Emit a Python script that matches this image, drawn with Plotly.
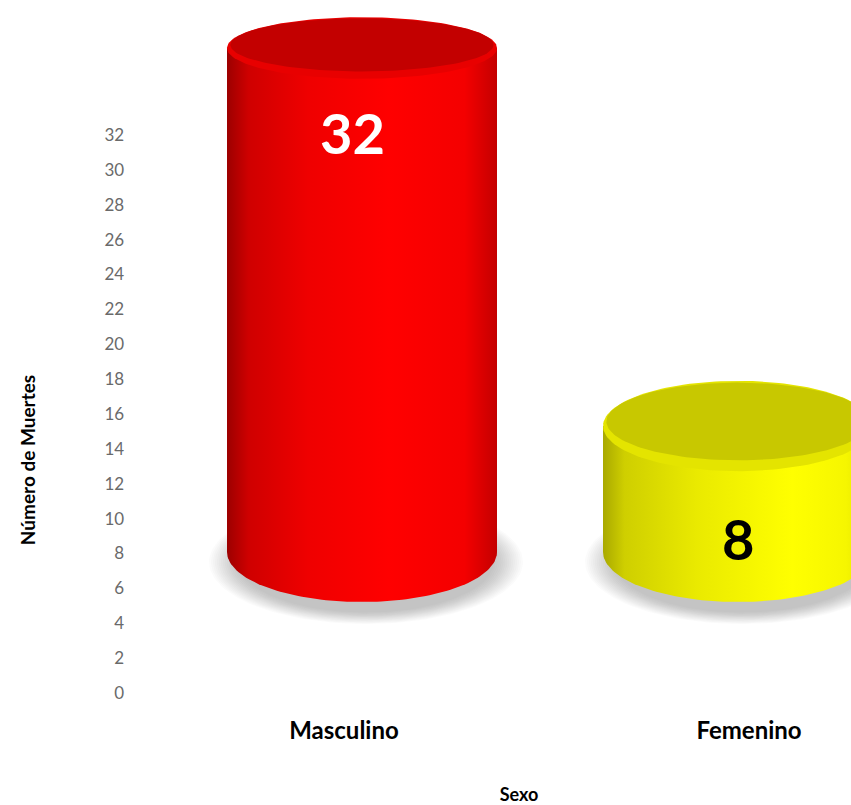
import numpy as np
import plotly.graph_objects as go

# ---------------- data ----------------
categories = ["Masculino", "Femenino"]
values = [32, 8]
y_ticks = list(range(0, 33, 2))
x_title = "Sexo"
y_title = "Número de Muertes"

# ---------------- styling ----------------
FONT = "Lato, Carlito, Calibri, sans-serif"
body_scales = [
    [[0, "#9c0000"], [0.08, "#cf0000"], [0.3, "#ef0000"], [0.6, "#ff0000"], [0.88, "#f40000"], [1, "#c40000"]],
    [[0, "#a9a900"], [0.08, "#cfcf00"], [0.35, "#eaea00"], [0.7, "#ffff00"], [0.9, "#f6f600"], [1, "#dede00"]],
]
flat_colors = ["#ff0000", "#f0f000"]
top_colors = ["#c30000", "#c8c800"]
rim_colors = ["#e80000", "#e4e400"]
label_colors = ["white", "black"]
label_drop_px = [84, 112]
label_xshift_px = [-10, 0]

W, H = 851, 805

# cylinder x axis (whole figure)
X_SCALE, X0_PX = 376.0, 362.0
x_range = [-X0_PX / X_SCALE, (W - X0_PX) / X_SCALE]
# cylinder value axis (whole figure)
Y_SCALE_C, BASE_PX = 15.75, 552.0
y_range_c = [-(H - BASE_PX) / Y_SCALE_C, BASE_PX / Y_SCALE_C]

# category label axis (its domain is centred where the axis title sits)
XL_SCALE, XL0_PX = 405.0, 344.0
XL_DOM_PX = [187.0, 851.0]
xl_domain = [XL_DOM_PX[0] / W, XL_DOM_PX[1] / W]
xl_range = [(XL_DOM_PX[0] - XL0_PX) / XL_SCALE, (XL_DOM_PX[1] - XL0_PX) / XL_SCALE]
XL_LINE_PX = 712.0

# tick value axis (domain centred where the axis title sits)
ZERO_PX, TOP_PX = 693.0, 135.0
Y_SCALE_T = (ZERO_PX - TOP_PX) / 32.0
YT_DOM_PX = [130.0, 790.0]
yt_domain = [1 - YT_DOM_PX[1] / H, 1 - YT_DOM_PX[0] / H]
yt_range = [-(YT_DOM_PX[1] - ZERO_PX) / Y_SCALE_T, (ZERO_PX - YT_DOM_PX[0]) / Y_SCALE_T]

BW = 270.0 / X_SCALE  # bar width in x units
RX = BW / 2


def ry_px(v):
    # perspective: lower faces look more tilted
    return 50.0 - 0.6 * v


def ellipse(cx, cy, rx, ry, n=160):
    t = np.linspace(0, 2 * np.pi, n)
    return cx + rx * np.cos(t), cy + ry * np.sin(t)


fig = go.Figure()

# real bars (flat colour, covered by shaded cylinder bodies)
xs = list(range(len(categories)))
fig.add_trace(go.Bar(x=xs, y=values, width=BW, marker=dict(color=flat_colors, line=dict(width=0)),
                     xaxis="x", yaxis="y", hoverinfo="skip", showlegend=False))

# soft shadows
for i, v in enumerate(values):
    cy = -10.0 / Y_SCALE_C
    n_layers = 16
    for k in range(n_layers):
        s = 1.0 - 0.2 * k / n_layers
        ex, ey = ellipse(i + 4.0 / X_SCALE, cy, (RX + 22.0 / X_SCALE) * s,
                         (ry_px(0) + 12) / Y_SCALE_C * s)
        fig.add_trace(go.Scatter(x=ex, y=ey, fill="toself", mode="lines", line=dict(width=0),
                                 fillcolor="rgba(70,70,70,0.022)", xaxis="x", yaxis="y",
                                 hoverinfo="skip", showlegend=False))

# cylinder bodies with horizontal shading
for i, v in enumerate(values):
    r0 = ry_px(0) / Y_SCALE_C
    t = np.linspace(np.pi, 2 * np.pi, 100)
    bx = list(i + RX * np.cos(t)) + [i + RX, i - RX, i - RX]
    by = list(r0 * np.sin(t)) + [v, v, 0]
    fig.add_trace(go.Scatter(x=bx, y=by, fill="toself", mode="lines", line=dict(width=0),
                             fillgradient=dict(type="horizontal", colorscale=body_scales[i]),
                             xaxis="x", yaxis="y", hoverinfo="skip", showlegend=False))

# top faces with a bevel rim
for i, v in enumerate(values):
    ry = ry_px(v) / Y_SCALE_C
    ex, ey = ellipse(i, v, RX, ry)
    fig.add_trace(go.Scatter(x=ex, y=ey, fill="toself", mode="lines", line=dict(width=0),
                             fillcolor=rim_colors[i], xaxis="x", yaxis="y",
                             hoverinfo="skip", showlegend=False))
    ex, ey = ellipse(i, v + ry * 0.1, RX * 0.975, ry * 0.86)
    fig.add_trace(go.Scatter(x=ex, y=ey, fill="toself", mode="lines", line=dict(width=0),
                             fillcolor=top_colors[i], xaxis="x", yaxis="y",
                             hoverinfo="skip", showlegend=False))

# invisible trace binding the category-label axis and the tick axis
fig.add_trace(go.Scatter(x=xs, y=values, mode="markers", marker=dict(opacity=0),
                         xaxis="x2", yaxis="y2", hoverinfo="skip", showlegend=False))

# value labels
for i, v in enumerate(values):
    fig.add_annotation(x=i, y=v, xref="x", yref="y", text=str(v), showarrow=False,
                       yshift=-label_drop_px[i], xshift=label_xshift_px[i],
                       font=dict(family=FONT, size=56, color=label_colors[i], weight="bold"))

fig.update_layout(
    width=W, height=H,
    margin=dict(l=0, r=0, t=0, b=0, autoexpand=False),
    paper_bgcolor="white", plot_bgcolor="rgba(0,0,0,0)",
    showlegend=False, bargap=0,
    xaxis=dict(range=x_range, domain=[0, 1], visible=False),
    yaxis=dict(range=y_range_c, domain=[0, 1], visible=False),
    xaxis2=dict(range=xl_range, domain=xl_domain, anchor="free",
                position=1 - XL_LINE_PX / H, side="bottom",
                tickvals=xs, ticktext=categories, showgrid=False, zeroline=False,
                showline=False, ticks="", ticklabelstandoff=2,
                tickfont=dict(family=FONT, size=24, color="black", weight="bold"),
                title=dict(text=x_title, standoff=46,
                           font=dict(family=FONT, size=18, color="black", weight="bold"))),
    yaxis2=dict(range=yt_range, domain=yt_domain, anchor="free", position=0.146,
                tickvals=y_ticks, showgrid=False, zeroline=False, showline=False, ticks="",
                tickfont=dict(family=FONT, size=17, color="#6a6a6a"),
                title=dict(text=y_title, standoff=62,
                           font=dict(family=FONT, size=19, color="black", weight="bold"))),
)

fig.write_html("out.html", config={"displayModeBar": False},
               post_script="document.body.style.margin='0';")
